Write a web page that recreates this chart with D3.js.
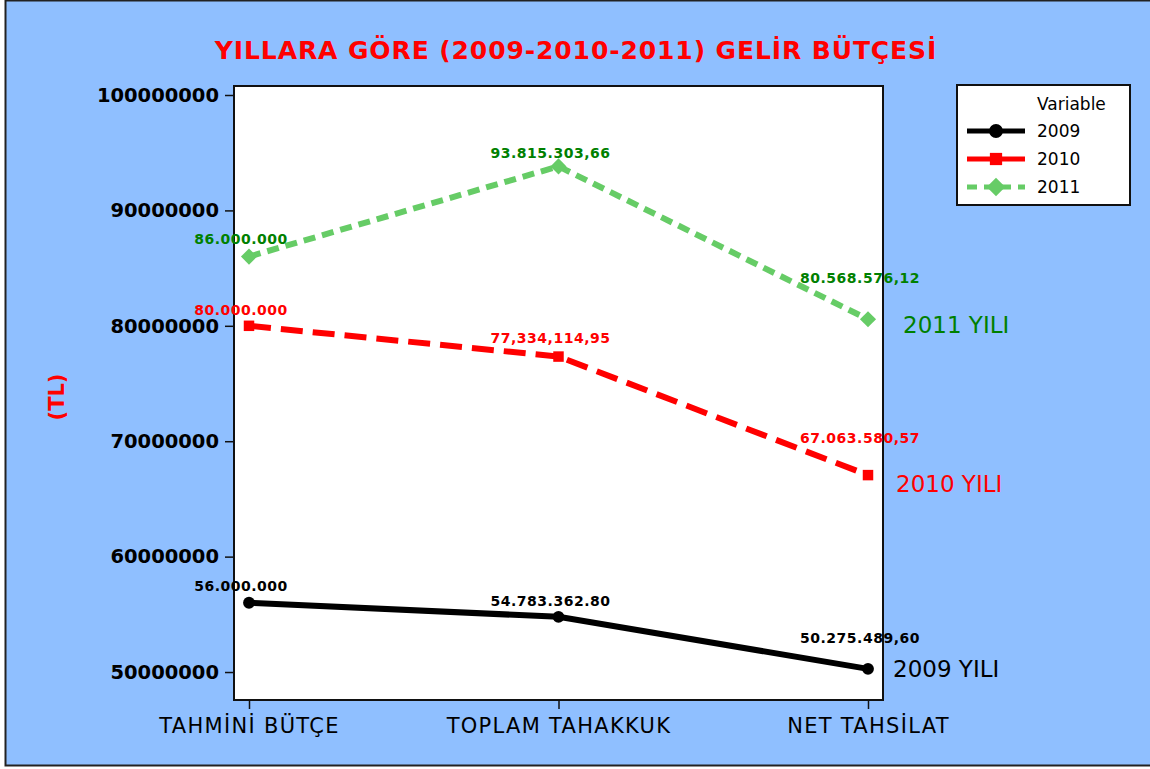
<!DOCTYPE html>
<html>
<head>
<meta charset="utf-8">
<script src="https://cdn.jsdelivr.net/npm/d3@7"></script>
<style>
body { margin:0; background:#fff; }
text { font-family: "DejaVu Sans", Verdana, sans-serif; }
</style>
</head>
<body>
<script>
var w = 1150, h = 769;

// data
var categories = ["TAHMİNİ BÜTÇE", "TOPLAM TAHAKKUK", "NET TAHSİLAT"];
var seriesNames = ["2009", "2010", "2011"];
var values2009 = [56000000, 54783362.80, 50275489.60];
var values2010 = [80000000, 77334114.95, 67063580.57];
var values2011 = [86000000, 93815303.66, 80568576.12];
var labels2009 = ["56.000.000", "54.783.362.80", "50.275.489,60"];
var labels2010 = ["80.000.000", "77,334,114,95", "67.063.580,57"];
var labels2011 = ["86.000.000", "93.815.303,66", "80.568.576,12"];
var yTicks = [50000000, 60000000, 70000000, 80000000, 90000000, 100000000];
var endLabels = ["2009 YILI", "2010 YILI", "2011 YILI"];

var series = [
  {name: seriesNames[0], values: values2009, labels: labels2009, color: "#000", lab: "#000", dash: null, sym: d3.symbolCircle, size: 110, rot: 0, end: endLabels[0], endCol: "#000", ldy: [-12, -11, -26], edx: 25, edy: 8},
  {name: seriesNames[1], values: values2010, labels: labels2010, color: "#ff0000", lab: "#ff0000", dash: "22,10", sym: d3.symbolSquare, size: 110, rot: 0, end: endLabels[1], endCol: "#ff0000", ldy: [-11, -14, -32], edx: 28, edy: 17},
  {name: seriesNames[2], values: values2011, labels: labels2011, color: "#66cc66", lab: "#008000", dash: "12,7", sym: d3.symbolSquare, size: 130, rot: 45, end: endLabels[2], endCol: "#008000", ldy: [-13, -8, -36], edx: 35, edy: 14}
];

var svg = d3.select("body").append("svg")
  .attr("width", w)
  .attr("height", h);

svg.append("rect").attr("x", 0).attr("y", 0).attr("width", w).attr("height", h).attr("fill", "#ffffff");
svg.append("rect")
  .attr("x", 5.5).attr("y", 0.5).attr("width", 1150).attr("height", 765)
  .attr("fill", "#8fbfff").attr("stroke", "#222").attr("stroke-width", 2);

var m = {left: 234, top: 86, right: 883, bottom: 700};

var x = d3.scalePoint().domain(categories).range([249, 868]);
var y = d3.scaleLinear().domain([47576000, 100780000]).range([m.bottom, m.top]);

svg.append("rect")
  .attr("x", m.left).attr("y", m.top)
  .attr("width", m.right - m.left).attr("height", m.bottom - m.top)
  .attr("fill", "#fff").attr("stroke", "#111").attr("stroke-width", 2);

// axes
var yAxis = svg.append("g")
  .attr("transform", "translate(" + m.left + ",0)")
  .call(d3.axisLeft(y).tickValues(yTicks).tickSize(9).tickPadding(6).tickFormat(d3.format("d")));
yAxis.select(".domain").remove();
yAxis.selectAll("line").attr("stroke", "#111").attr("stroke-width", 1.5);
yAxis.selectAll("text").attr("font-size", 19.5).attr("font-weight", "bold").attr("fill", "#000")
  .style("font-family", "DejaVu Sans");

var xAxis = svg.append("g")
  .attr("transform", "translate(0," + m.bottom + ")")
  .call(d3.axisBottom(x).tickSize(9).tickPadding(6));
xAxis.select(".domain").remove();
xAxis.selectAll("line").attr("stroke", "#111").attr("stroke-width", 1.5);
xAxis.selectAll("text").attr("font-size", 21).attr("fill", "#000").attr("dy", "0.85em")
  .attr("letter-spacing", 1.3)
  .style("font-family", "DejaVu Sans");

// title
svg.append("text")
  .attr("x", 576).attr("y", 59)
  .attr("text-anchor", "middle")
  .attr("font-size", 25).attr("font-weight", "bold").attr("fill", "#ff0000")
  .attr("letter-spacing", 0.9)
  .text("YILLARA GÖRE (2009-2010-2011) GELİR BÜTÇESİ");

svg.append("text")
  .attr("transform", "translate(64,397) rotate(-90)")
  .attr("text-anchor", "middle")
  .attr("font-size", 21).attr("font-weight", "bold").attr("fill", "#ff0000")
  .text("(TL)");

var line = d3.line()
  .x(function(d, i) { return x(categories[i]); })
  .y(function(d) { return y(d); });

series.forEach(function(s) {
  svg.append("path")
    .attr("d", line(s.values))
    .attr("fill", "none")
    .attr("stroke", s.color)
    .attr("stroke-width", 6)
    .attr("stroke-dasharray", s.dash);

  svg.selectAll(null)
    .data(s.values)
    .enter()
    .append("path")
    .attr("d", d3.symbol().type(s.sym).size(s.size))
    .attr("transform", function(d, i) { return "translate(" + x(categories[i]) + "," + y(d) + ") rotate(" + s.rot + ")"; })
    .attr("fill", s.color);

  svg.selectAll(null)
    .data(s.values)
    .enter()
    .append("text")
    .attr("x", function(d, i) { return x(categories[i]) - 8; })
    .attr("y", function(d, i) { return y(d) + s.ldy[i]; })
    .attr("text-anchor", "middle")
    .attr("font-size", 14).attr("font-weight", "bold").attr("fill", s.lab)
    .attr("letter-spacing", 0.5)
    .text(function(d, i) { return s.labels[i]; });

  svg.append("text")
    .attr("x", x(categories[2]) + s.edx)
    .attr("y", y(s.values[2]) + s.edy)
    .attr("font-size", 23).attr("fill", s.endCol)
    .text(s.end);
});

// legend
var lg = svg.append("g").attr("transform", "translate(957,85)");
lg.append("rect").attr("width", 173).attr("height", 120)
  .attr("fill", "#fff").attr("stroke", "#111").attr("stroke-width", 2);
lg.append("text").attr("x", 80).attr("y", 25).attr("font-size", 17).text("Variable");
series.forEach(function(s, i) {
  var yy = 46 + i * 28;
  lg.append("line").attr("x1", 10).attr("x2", 68).attr("y1", yy).attr("y2", yy)
    .attr("stroke", s.color).attr("stroke-width", 5)
    .attr("stroke-dasharray", i == 2 ? "10,7" : null);
  lg.append("path")
    .attr("d", d3.symbol().type(s.sym).size(s.size + 40))
    .attr("transform", "translate(39," + yy + ") rotate(" + s.rot + ")")
    .attr("fill", s.color);
  lg.append("text").attr("x", 80).attr("y", yy + 6).attr("font-size", 17).text(s.name);
});
</script>
</body>
</html>
